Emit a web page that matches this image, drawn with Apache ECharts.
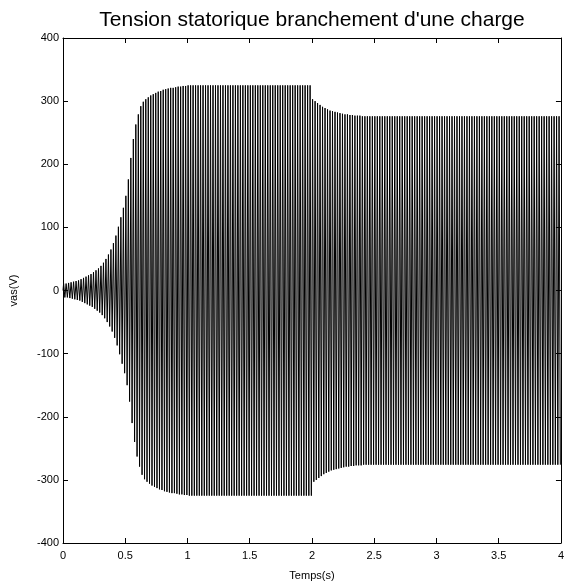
<!DOCTYPE html>
<html>
<head>
<meta charset="utf-8">
<script src="https://cdn.jsdelivr.net/npm/echarts@6/dist/echarts.min.js"></script>
<style>html,body{margin:0;padding:0;background:#fff}#c{width:567px;height:586px}</style>
</head>
<body>
<div id="c"></div>
<script>
// Chart text
var titleText = "Tension statorique branchement d'une charge";
var xName = "Temps(s)";
var yName = "vas(V)";
// Axis ranges / ticks
var xMin = 0, xMax = 4, xStep = 0.5;
var yMin = -400, yMax = 400, yStep = 100;
// Supply frequency (Hz), one entry per cycle below
var freqHz = 50;
// Peak amplitude (V) of each cycle (200 cycles, 0..4 s)
var cyclePeak = [
  11,11,12,13,14,15,16,18,20,22,
  24,26,29,32,35,39,44,50,57,65,
  75,87,101,116,131,150,176,210,240,263,
  279,292,299,303,306,309,311,313,315,316,
  318,319,320,321,321,322,323,323,324,324,
  325,325,325,325,325,325,325,325,325,325,
  325,325,325,325,325,325,325,325,325,325,
  325,325,325,325,325,325,325,325,325,325,
  325,325,325,325,325,325,325,325,325,325,
  325,325,325,325,325,325,325,325,325,325,
  303,300,297,294,291,289,287,285,284,283,
  282,281,280,279,279,278,278,277,277,277,
  276,276,276,276,276,276,276,276,276,276,
  276,276,276,276,276,276,276,276,276,276,
  276,276,276,276,276,276,276,276,276,276,
  276,276,276,276,276,276,276,276,276,276,
  276,276,276,276,276,276,276,276,276,276,
  276,276,276,276,276,276,276,276,276,276,
  276,276,276,276,276,276,276,276,276,276,
  276,276,276,276,276,276,276,276,276,276
];

// Build the waveform: each cycle gives a positive crest and a negative trough
var wave = [[0, 0]];
for (var k = 0; k < cyclePeak.length; k++) {
  wave.push([(k + 0.25) / freqHz, cyclePeak[k]]);
  wave.push([(k + 0.75) / freqHz, -cyclePeak[k]]);
}

var font = 'Arial, "Liberation Sans", Helvetica, sans-serif';
var chart = echarts.init(document.getElementById('c'), null, {renderer: 'canvas'});
var axisLine = {show: true, onZero: false, lineStyle: {color: '#000', width: 1}};
var ticks = {show: true, inside: true, length: 5, lineStyle: {color: '#000', width: 1}};
chart.setOption({
  animation: false,
  backgroundColor: '#fff',
  grid: {left: 63, right: 2, top: 38, bottom: 42, containLabel: false},
  graphic: [{
    type: 'text', x: 312, y: 10,
    style: {text: titleText, font: '21px ' + font, fill: '#000', textAlign: 'center', textVerticalAlign: 'top'}
  }],
  xAxis: [{
    type: 'value', min: xMin, max: xMax, interval: xStep, position: 'bottom',
    name: xName, nameLocation: 'middle', nameGap: 27,
    nameTextStyle: {color: '#000', fontSize: 11, fontFamily: font},
    axisLine: axisLine, axisTick: ticks, splitLine: {show: false},
    axisLabel: {color: '#000', fontSize: 11, fontFamily: font, margin: 7}
  }, {
    type: 'value', min: xMin, max: xMax, interval: xStep, position: 'top',
    axisLine: axisLine, axisTick: ticks, splitLine: {show: false}, axisLabel: {show: false}
  }],
  yAxis: [{
    type: 'value', min: yMin, max: yMax, interval: yStep, position: 'left',
    name: yName, nameLocation: 'middle', nameGap: 44, nameRotate: 90,
    nameTextStyle: {color: '#000', fontSize: 11, fontFamily: font},
    axisLine: axisLine, axisTick: ticks, splitLine: {show: false},
    axisLabel: {color: '#000', fontSize: 11, fontFamily: font, margin: 4}
  }, {
    type: 'value', min: yMin, max: yMax, interval: yStep, position: 'right',
    axisLine: axisLine, axisTick: ticks, splitLine: {show: false}, axisLabel: {show: false}
  }],
  series: [{
    type: 'line', data: wave, xAxisIndex: 0, yAxisIndex: 0,
    showSymbol: false, symbol: 'none', sampling: null,
    lineStyle: {color: '#000', width: 1}, silent: true
  }]
});
</script>
</body>
</html>
